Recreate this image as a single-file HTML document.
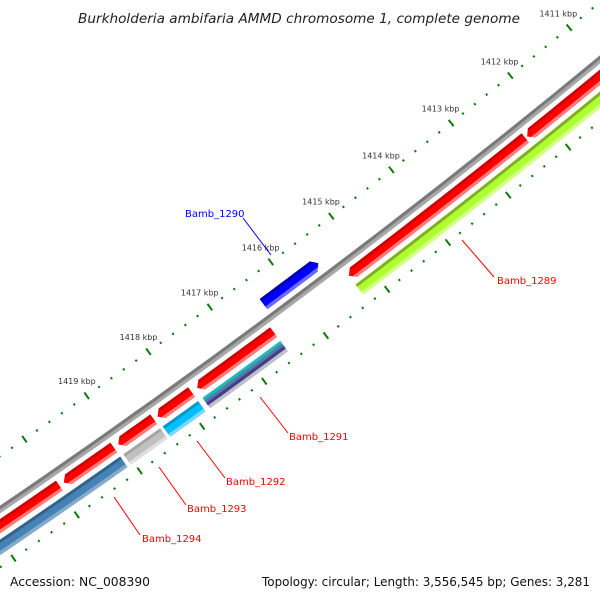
<!DOCTYPE html>
<html><head><meta charset="utf-8"><style>
html,body{margin:0;padding:0;background:#fff;width:600px;height:600px;overflow:hidden}
svg{display:block;font-family:"DejaVu Sans","Liberation Sans",sans-serif;overflow:hidden}
</style></head><body>
<svg id="map" width="600" height="600" viewBox="0 0 600 600" xmlns="http://www.w3.org/2000/svg">
<rect width="600" height="600" fill="#fff"/>
<g id="ticks"></g>
<g id="feats"></g>
<g id="labels">
<line x1="243" y1="218" x2="271" y2="255" stroke="#0000ff" stroke-width="1"/>
<text x="185" y="217" font-size="10" fill="#0000ff">Bamb_1290</text>
<line x1="462" y1="240" x2="494" y2="277" stroke="#ff0000" stroke-width="1"/>
<text x="497" y="284" font-size="10" fill="#ff0000">Bamb_1289</text>
<line x1="260" y1="397" x2="288" y2="433" stroke="#ff0000" stroke-width="1"/>
<text x="289" y="440" font-size="10" fill="#ff0000">Bamb_1291</text>
<line x1="197" y1="441" x2="225" y2="478" stroke="#ff0000" stroke-width="1"/>
<text x="226" y="485" font-size="10" fill="#ff0000">Bamb_1292</text>
<line x1="159" y1="467" x2="186" y2="505" stroke="#ff0000" stroke-width="1"/>
<text x="187" y="512" font-size="10" fill="#ff0000">Bamb_1293</text>
<line x1="114" y1="497" x2="140" y2="535" stroke="#ff0000" stroke-width="1"/>
<text x="142" y="542" font-size="10" fill="#ff0000">Bamb_1294</text>
</g>
<text x="78" y="23" font-size="13" font-style="italic" fill="#222" textLength="442" lengthAdjust="spacingAndGlyphs">Burkholderia ambifaria AMMD chromosome 1, complete genome</text>
<text x="10" y="586" font-size="12" fill="#111" textLength="140" lengthAdjust="spacingAndGlyphs">Accession: NC_008390</text>
<text x="262" y="586" font-size="12" fill="#111" textLength="328" lengthAdjust="spacingAndGlyphs">Topology: circular; Length: 3,556,545 bp; Genes: 3,281</text>
</svg>
<script>
const CX=-4607, CY=-6256, PHI0=53.19, DPK=0.534, REF=1416;
// Data arrays (kbp)
const fwdStarts=[1409.0,1412.36,1416.52,1417.85,1418.46,1419.10,1419.97];
const fwdEnds  =[1412.33,1415.29,1417.76,1418.40,1419.03,1419.90,1423.0];
const revStarts=[1415.51];
const revEnds  =[1416.41];
const lowStarts=[1409.0,1416.52,1417.85,1418.46,1419.10];
const lowEnds  =[1415.29,1417.78,1418.42,1419.05,1423.0];
const lowKinds =['green','stripes','cyan','silver','steel'];
const tickLabelKbp=[1410,1411,1412,1413,1414,1415,1416,1417,1418,1419];

const NS='http://www.w3.org/2000/svg';
function phi(K){return (PHI0+(K-REF)*DPK)*Math.PI/180;}
function P(K,r){const a=phi(K);return [CX+r*Math.cos(a),CY+r*Math.sin(a)];}
function poly(pts,fill,parent,name){
  const p=document.createElementNS(NS,'polygon');
  p.setAttribute('points',pts.map(q=>q[0].toFixed(2)+','+q[1].toFixed(2)).join(' '));
  p.setAttribute('fill',fill);
  
  
  parent.appendChild(p);return p;
}
function bandPts(k1,k2,r1,r2){
  const n=16,pts=[];
  for(let i=0;i<=n;i++)pts.push(P(k1+(k2-k1)*i/n,r1));
  for(let i=n;i>=0;i--)pts.push(P(k1+(k2-k1)*i/n,r2));
  return pts;
}
const feats=document.getElementById('feats');
const ticks=document.getElementById('ticks');
let clipId=0;
const defs=document.createElementNS(NS,'defs');document.getElementById('map').appendChild(defs);
function shaded(k1,k2,r1,r2,stripes,tip,name){
  const g=document.createElementNS(NS,'g');
  
  
  let outline;
  const h=0.075, rm=(r1+r2)/2;
  if(tip==='high'){
    outline=[];const n=16;
    for(let i=0;i<=n;i++)outline.push(P(k1+(k2-h-k1)*i/n,r1));
    outline.push(P(k2,rm));
    for(let i=n;i>=0;i--)outline.push(P(k1+(k2-h-k1)*i/n,r2));
  }else if(tip==='low'){
    outline=[P(k1,rm)];const n=16;
    for(let i=0;i<=n;i++)outline.push(P(k1+h+(k2-k1-h)*i/n,r1));
    for(let i=n;i>=0;i--)outline.push(P(k1+h+(k2-k1-h)*i/n,r2));
  }else outline=bandPts(k1,k2,r1,r2);
  const cp=document.createElementNS(NS,'clipPath');
  const id='cp'+(clipId++);cp.setAttribute('id',id);
  const cpp=document.createElementNS(NS,'polygon');
  cpp.setAttribute('points',outline.map(q=>q[0].toFixed(2)+','+q[1].toFixed(2)).join(' '));
  cp.appendChild(cpp);defs.appendChild(cp);
  g.setAttribute('clip-path','url(#'+id+')');
  let r=r1;const tot=stripes.reduce((s,x)=>s+x[0],0);
  stripes.forEach(s=>{const rr=r+(r2-r1)*s[0]/tot;poly(bandPts(k1-0.1,k2+0.1,r-0.3,rr+0.3),s[1],g,name+'-shade');r=rr;});
  feats.appendChild(g);
}
function tickLine(K,r,len,name){
  const a=P(K,r-len/2),b=P(K,r+len/2);
  const l=document.createElementNS(NS,'line');
  l.setAttribute('x1',a[0]);l.setAttribute('y1',a[1]);l.setAttribute('x2',b[0]);l.setAttribute('y2',b[1]);
  l.setAttribute('stroke','#0b7a0b');l.setAttribute('stroke-width','2');
  
  
  ticks.appendChild(l);
}
for(let i=0;i<=70;i++){
  const K=1408+i*0.2, major=(i%5===0);
  tickLine(K,8141,major?8:2.2,major?'outer-major-tick':'outer-minor-tick');
  tickLine(K,8233,major?8:2.2,major?'inner-major-tick':'inner-minor-tick');
}
tickLabelKbp.forEach(K=>{
  const p=P(K,8124);
  const t=document.createElementNS(NS,'text');
  t.setAttribute('x',p[0]);t.setAttribute('y',p[1]+2);
  t.setAttribute('text-anchor','middle');t.setAttribute('font-size','8');t.setAttribute('fill','#333');
  t.textContent=K+' kbp';
  
  
  ticks.appendChild(t);
});
shaded(1408,1423,8182,8188.5,[[3.5,'#7a7a7a'],[3,'#a8a8a8']],null,'backbone');
const redSh=[[3,'#cc0000'],[6,'#ff0000'],[3,'#ff7a7a']];
fwdStarts.forEach((s,i)=>shaded(s,fwdEnds[i],8193,8205,redSh,'high','forward-gene'));
const blueSh=[[3,'#0000b0'],[6,'#0000ff'],[3,'#6a6aff']];
revStarts.forEach((s,i)=>shaded(s,revEnds[i],8164,8177,blueSh,'low','reverse-gene-bamb-1290'));
const kindSh={
  green:[[3,'#80b020'],[6,'#adff2f'],[3,'#d4ff88']],
  stripes:[[3,'#22b8b8'],[3,'#4f7fa8'],[3,'#483d8b'],[3,'#c0c0c8']],
  cyan:[[3,'#0098cc'],[6,'#00bfff'],[3,'#7ad8ff']],
  silver:[[3,'#a4a4a4'],[6,'#c0c0c0'],[3,'#dedede']],
  steel:[[3,'#30628e'],[6,'#4682b4'],[3,'#86aacb']]
};
lowStarts.forEach((s,i)=>shaded(s,lowEnds[i],8210,8223,kindSh[lowKinds[i]],null,'feature-'+lowKinds[i]));
</script>
</body></html>
